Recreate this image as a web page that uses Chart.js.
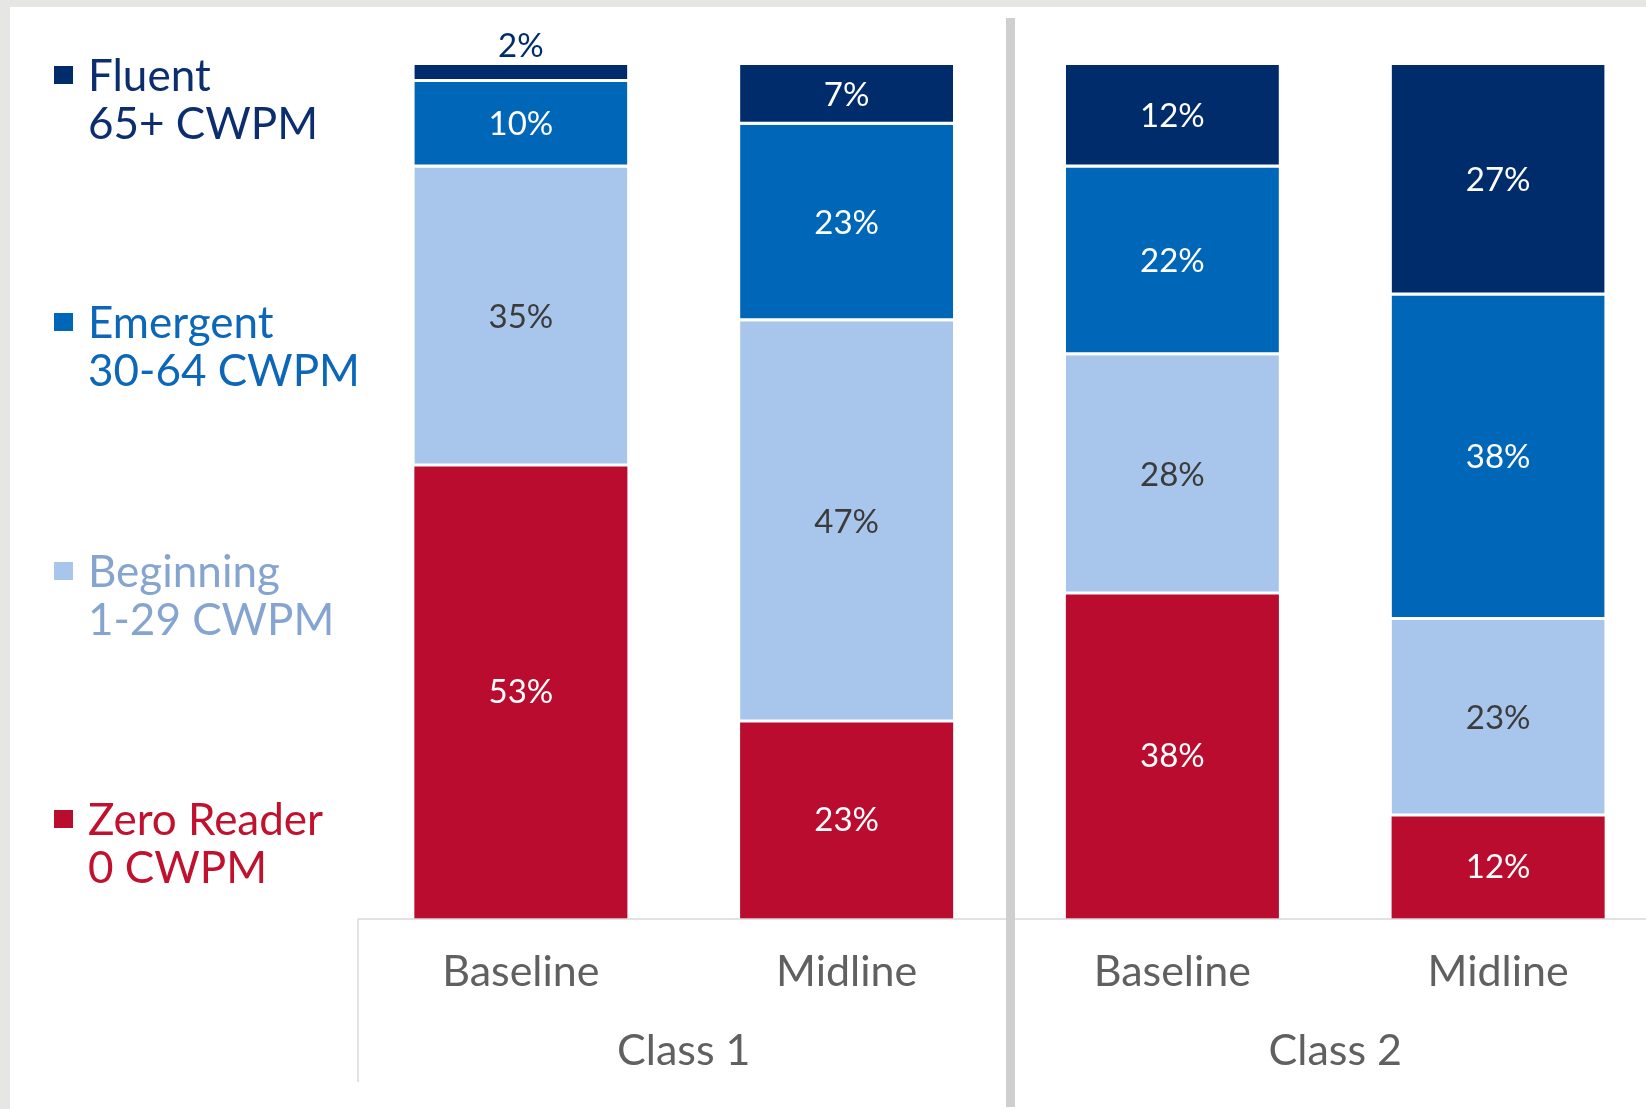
<!DOCTYPE html>
<html>
<head>
<meta charset="utf-8">
<script src="https://cdn.jsdelivr.net/npm/chart.js@4.4.1/dist/chart.umd.min.js"></script>
<style>
  html, body { margin: 0; padding: 0; }
  body { width: 1646px; height: 1109px; overflow: hidden; background: #e6e6e4; position: relative; font-family: Lato, 'Open Sans', sans-serif; }
  #panel { position: absolute; left: 10px; top: 7px; width: 1680px; height: 1102px; background: #fff; }
  #chartWrap { position: absolute; left: 0; top: 0; width: 1680px; height: 1102px; }
  .legend-item { position: absolute; left: 44px; font-size: 44px; line-height: 48px; padding-left: 34px; white-space: nowrap; }
  .legend-item .swatch { position: absolute; left: 0; top: 16px; width: 19px; height: 18px; }
</style>
</head>
<body>
<div id="panel">
  <div id="chartWrap"><canvas id="chart"></canvas></div>
  <div id="legend"></div>
</div>
<script>
// reading levels, bottom of the stack first
const groups     = ['Class 1', 'Class 2'];
const phases     = ['Baseline', 'Midline', 'Baseline', 'Midline'];

const zeroReader = [53, 23, 38, 12];
const beginning  = [35, 47, 28, 23];
const emergent   = [10, 23, 22, 38];
const fluent     = [2, 7, 12, 27];

const levelNames = ['Zero Reader', 'Beginning', 'Emergent', 'Fluent'];
const levelSub   = ['0 CWPM', '1-29 CWPM', '30-64 CWPM', '65+ CWPM'];

const barColors  = ['#b90c2e', '#a8c6ec', '#0066b8', '#012c6c'];
const textColors = ['#c0112f', '#86a4d0', '#0d67b9', '#0c2e6e'];
const labelInk   = ['#ffffff', '#3b3b3b', '#ffffff', '#ffffff'];

const FONT = "Lato, 'Open Sans', sans-serif";
const AXIS_GRAY = '#d9d9d9';

// ── HTML legend (top-down: Fluent first) ─────────────────
const legendTops = [794, 546, 297, 50];
const legendEl = document.getElementById('legend');
[3, 2, 1, 0].forEach(i => {
  const item = document.createElement('div');
  item.className = 'legend-item';
  item.style.top = (legendTops[i] - 7) + 'px';
  item.style.color = textColors[i];
  item.innerHTML = '<span class="swatch" style="background:' + barColors[i] + '"></span>' +
    levelNames[i] + '<br>' + levelSub[i];
  legendEl.appendChild(item);
});

// ── Decorations: axis line, group separators ─────────────
const frameLines = {
  id: 'frameLines',
  afterDraw(chart) {
    const { ctx, chartArea, scales } = chart;
    const x = scales.x;
    ctx.save();
    // axis line
    ctx.strokeStyle = AXIS_GRAY;
    ctx.lineWidth = 1.5;
    ctx.beginPath();
    ctx.moveTo(chartArea.left, chartArea.bottom);
    ctx.lineTo(chart.width, chartArea.bottom);
    // left edge of the category block
    ctx.moveTo(chartArea.left, chartArea.bottom);
    ctx.lineTo(chartArea.left, scales.x2.bottom - 27);
    ctx.stroke();
    // thick divider between the two classes
    const mid = (x.getPixelForValue(1) + x.getPixelForValue(2)) / 2 + 1;
    ctx.strokeStyle = '#cfcfcf';
    ctx.lineWidth = 9;
    ctx.beginPath();
    ctx.moveTo(mid, 11);
    ctx.lineTo(mid, chart.height - 2);
    ctx.stroke();
    ctx.restore();
  }
};

// ── Value labels inside each segment ─────────────────────
const segmentLabels = {
  id: 'segmentLabels',
  afterDatasetsDraw(chart) {
    const { ctx } = chart;
    ctx.save();
    ctx.font = '33px ' + FONT;
    ctx.textAlign = 'center';
    chart.data.datasets.forEach((ds, di) => {
      const meta = chart.getDatasetMeta(di);
      meta.data.forEach((bar, i) => {
        const v = ds.data[i];
        const { x, y, base } = bar.getProps(['x', 'y', 'base'], true);
        const h = base - y;
        if (h < 30) {
          // too thin: put it above the bar
          ctx.fillStyle = barColors[di];
          ctx.textBaseline = 'bottom';
          ctx.fillText(v + '%', x, y - 2);
        } else {
          ctx.fillStyle = labelInk[di];
          ctx.textBaseline = 'middle';
          ctx.fillText(v + '%', x, (y + base) / 2);
        }
      });
    });
    ctx.restore();
  }
};

const seriesData = [zeroReader, beginning, emergent, fluent];

new Chart(document.getElementById('chart'), {
  type: 'bar',
  data: {
    labels: phases,
    datasets: seriesData.map((vals, i) => ({
      label: levelNames[i],
      data: vals,
      backgroundColor: barColors[i],
      borderColor: '#ffffff',
      borderWidth: i === 0 ? 0 : { top: 0, right: 0, bottom: 3, left: 0 },
      borderSkipped: false,
      categoryPercentage: 1,
      barPercentage: 0.654,
      xAxisID: 'x',
    })),
  },
  options: {
    responsive: true,
    maintainAspectRatio: false,
    animation: false,
    layout: { padding: { left: 348, top: 58, right: 29, bottom: 0 } },
    plugins: {
      legend: { display: false },
      tooltip: { enabled: false },
    },
    scales: {
      x: {
        stacked: true,
        weight: 0,
        grid: { display: false, drawTicks: false },
        border: { display: false },
        ticks: { color: '#606060', font: { family: FONT, size: 43 }, padding: 27 },
        afterFit: (s) => { s.height = 95; },
      },
      x2: {
        type: 'category',
        labels: groups,
        position: 'bottom',
        offset: true,
        weight: 1,
        grid: { display: false, drawTicks: false },
        border: { display: false },
        ticks: { color: '#606060', font: { family: FONT, size: 43 }, padding: 11 },
        afterFit: (s) => { s.height = 95; },
      },
      y: {
        stacked: true,
        display: false,
        min: 0,
        max: 100,
      },
    },
  },
  plugins: [frameLines, segmentLabels],
});
</script>
</body>
</html>
